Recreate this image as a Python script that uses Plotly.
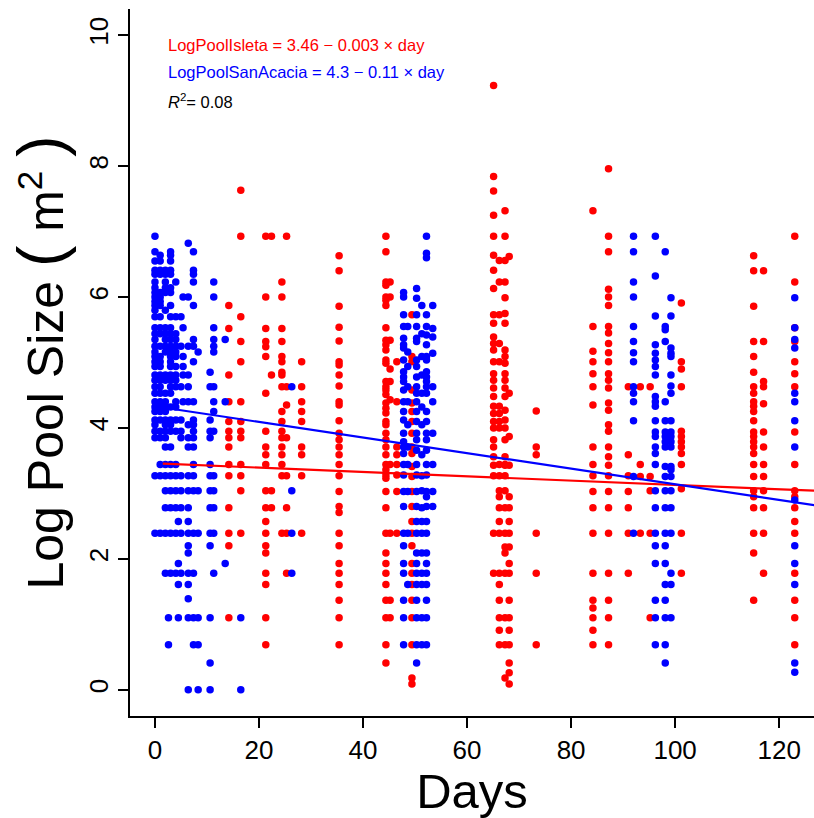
import plotly.graph_objects as go

# Isleta reach (red): sampling day and log pool sizes observed on that day
isleta_days = [14.2, 16.5, 21.3, 22.4, 24.4, 25.3, 28.2, 35.4, 44.4, 45.2, 46.5, 49.4,
               65.1, 66.2, 67.3, 68.1, 73.3, 84.2, 87.2, 91, 93.3, 95.2, 101.2, 115.1, 117, 123]
isleta_logpool = [
    [5.87, 5.52, 4.81, 4.40, 4.10, 3.95, 3.85, 3.71, 3.44, 3.27, 2.78, 2.39, 2.20, 1.10],
    [7.63, 6.93, 5.70, 5.32, 5.01, 4.40, 4.10, 3.95, 3.85, 3.44, 3.27, 3.04, 2.39],
    [6.93, 6.0, 5.52, 5.32, 5.24, 5.09, 4.53, 3.95, 3.71, 3.59, 3.44, 3.04, 2.78, 2.57, 2.39,
     2.20, 2.09, 1.78, 1.61, 1.10, 0.69],
    [6.93, 4.81, 3.04, 2.78],
    [6.23, 6.0, 5.52, 5.32, 5.09, 5.01, 4.85, 4.81, 4.63, 4.25, 4.10, 3.95, 3.85, 3.71, 3.59,
     3.44, 3.27, 2.39],
    [6.93, 4.63, 4.35, 3.85, 3.27, 2.78, 2.39, 1.78],
    [5.01, 4.63, 4.40, 4.25, 4.10, 3.71, 3.59, 3.27, 2.39],
    [6.63, 6.40, 5.86, 5.54, 5.33, 5.01, 4.96, 4.81, 4.64, 4.40, 4.35, 4.11, 3.92, 3.82, 3.71,
     3.59, 3.44, 3.27, 3.03, 2.80, 2.71, 2.39, 2.20, 1.93, 1.78, 1.61, 1.37, 1.10, 0.69],
    [6.93, 6.69, 6.23, 6.18, 6.0, 5.95, 5.87, 5.53, 5.34, 5.27, 5.19, 5.04, 4.99, 4.71, 4.63,
     4.58, 4.51, 4.38, 4.30, 4.23, 4.10, 4.05, 3.92, 3.82, 3.71, 3.59, 3.44, 3.36, 3.28, 3.23,
     3.03, 2.78, 2.39, 2.09, 1.93, 1.78, 1.61, 1.37, 1.10, 0.69, 0.41],
    [6.23, 6.0, 5.34, 4.90, 4.71, 4.43, 3.44, 2.39, 1.37, 1.10],
    [5.01, 4.40, 3.71, 3.59, 3.44, 3.28, 3.03, 2.39],
    [5.73, 5.09, 5.01, 4.58, 4.38, 4.25, 4.10, 3.92, 3.71, 3.61, 3.41, 3.26, 3.03, 2.80, 2.57,
     2.39, 2.20, 1.93, 1.78, 1.61, 1.37, 1.10, 0.69, 0.18, 0.09],
    [9.23, 7.84, 7.62, 7.25, 6.93, 6.64, 6.41, 6.13, 5.73, 5.60, 5.39, 5.29, 5.19, 5.01, 4.83,
     4.73, 4.61, 4.48, 4.33, 4.22, 4.10, 4.0, 3.82, 3.71, 3.56, 3.43, 3.27, 2.39, 1.78],
    [6.56, 6.23, 5.73, 5.29, 5.01, 4.33, 4.22, 4.10, 4.0, 3.44, 3.27, 3.04, 2.95, 2.78, 2.57,
     2.39, 1.78, 1.61, 1.37, 1.10, 0.91, 0.69],
    [7.32, 6.93, 6.56, 6.23, 5.99, 5.75, 5.60, 5.19, 5.09, 4.99, 4.83, 4.73, 4.61, 4.48, 4.27,
     4.12, 4.0, 3.82, 3.56, 3.43, 3.27, 3.44, 3.04, 2.78, 2.39, 2.18, 2.09, 1.78, 1.10, 0.69, 0.18],
    [6.62, 4.53, 3.87, 3.43, 2.95, 2.78, 2.57, 2.39, 2.18, 1.93, 1.78, 1.37, 1.10, 0.91, 0.69,
     0.41, 0.26, 0.09],
    [4.26, 3.71, 3.59, 2.39, 1.78, 0.69],
    [7.32, 5.55, 5.17, 5.01, 4.83, 4.63, 4.35, 3.71, 3.44, 3.27, 3.03, 2.78, 2.39, 1.78, 1.37,
     1.25, 1.10, 0.91, 0.69],
    [7.96, 6.93, 6.69, 6.12, 6.0, 5.87, 5.55, 5.45, 5.29, 5.15, 5.01, 4.83, 4.73, 4.61, 4.38,
     4.27, 4.05, 3.95, 3.71, 3.56, 3.43, 3.27, 3.03, 2.78, 2.39, 1.78, 1.37, 1.10, 0.69],
    [4.63, 3.59, 3.27, 3.03, 2.78, 2.39, 1.78],
    [4.63, 3.44, 3.26, 2.39],
    [4.63, 3.26, 3.04, 2.39, 1.10],
    [5.91, 5.01, 4.90, 4.63, 3.95, 3.87, 3.79, 3.71, 3.61, 3.44, 3.07, 2.39, 1.78],
    [6.63, 6.40, 5.86, 5.32, 5.09, 4.85, 4.63, 4.53, 4.40, 4.33, 4.25, 4.11, 3.94, 3.87, 3.79,
     3.71, 3.61, 3.44, 3.26, 3.04, 2.95, 2.78, 2.39, 2.09, 1.37],
    [6.40, 5.32, 4.71, 4.63, 4.37, 3.94, 3.71, 3.44, 3.26, 3.04, 2.78, 2.39, 1.78],
    [6.93, 6.23, 5.53, 5.32, 5.01, 4.83, 4.63, 3.94, 3.44, 3.04, 2.95, 2.78, 2.57, 2.39, 1.78,
     1.37, 1.10, 0.69],
]

# San Acacia reach (blue)
sanacacia_days = [0, 1, 2, 2.6, 3, 4, 4.5, 5, 5.4, 6.4, 7.4, 8.3, 10.6, 11.3, 13.5, 16.5, 26.3,
                  47.8, 48.6, 50.3, 51.3, 52.2, 53.4, 92, 96.2, 98.1, 99.2, 123]
sanacacia_logpool = [
    [6.93, 6.69, 6.55, 6.41, 6.35, 6.23, 6.14, 6.07, 6.0, 5.93, 5.87, 5.80, 5.70, 5.53, 5.44,
     5.35, 5.25, 5.16, 5.09, 5.01, 4.94, 4.81, 4.73, 4.63, 4.53, 4.40, 4.32, 4.25, 4.12, 4.05,
     3.95, 3.85, 3.27, 2.39],
    [6.64, 6.55, 6.41, 6.35, 6.07, 6.0, 5.93, 5.87, 5.70, 5.53, 5.44, 5.25, 5.09, 5.01, 4.94,
     4.81, 4.73, 4.63, 4.53, 4.40, 4.32, 4.25, 4.12, 3.95, 3.85, 3.44, 3.27, 2.39],
    [6.41, 6.35, 6.23, 6.14, 6.07, 5.80, 5.53, 5.44, 5.35, 5.25, 5.16, 4.81, 4.73, 4.53, 4.40,
     4.32, 4.25, 4.12, 4.05, 3.95, 3.85, 3.71, 3.44, 3.27, 3.04, 2.78, 2.39, 1.78],
    [1.10, 0.69],
    [6.69, 6.64, 6.55, 6.41, 6.35, 6.14, 6.07, 5.87, 5.70, 5.53, 5.44, 5.35, 5.25, 5.16, 5.09,
     5.01, 4.94, 4.81, 4.73, 4.63, 4.53, 4.32, 4.12, 4.05, 3.95, 3.71, 3.44, 3.27, 3.04, 2.78,
     2.39, 1.78],
    [6.23, 5.70, 5.44, 5.35, 5.25, 5.16, 5.09, 4.94, 4.81, 4.73, 4.63, 4.40, 4.32, 4.12, 3.95,
     3.44, 3.27, 3.04, 2.78, 2.39, 1.78],
    [2.57, 1.93, 1.61, 1.10],
    [5.70, 5.25, 4.63, 4.12, 3.95, 3.85, 3.27, 3.04, 2.78, 2.39, 1.78],
    [6.0, 5.53, 5.09, 4.94, 4.81, 4.40],
    [6.82, 6.0, 5.25, 4.81, 4.63, 4.40, 4.05, 3.85, 3.71, 3.27, 3.04, 2.78, 2.57, 2.39, 2.20,
     2.09, 1.78, 1.61, 1.39, 1.10, 0],
    [6.69, 6.41, 6.35, 6.23, 5.87, 5.35, 5.25, 5.01, 4.40, 4.12, 4.05, 3.95, 3.85, 3.71, 3.44,
     3.27, 3.04, 2.39, 1.78, 1.10, 0.69],
    [5.16, 3.04, 2.39, 1.10, 0.69, 0],
    [4.85, 4.63, 4.12, 3.95, 3.85, 3.44, 3.27, 3.04, 2.78, 2.39, 2.20, 1.10, 0.41, 0],
    [6.23, 6.0, 5.53, 5.35, 5.25, 5.16, 4.63, 4.40, 4.25, 3.95, 3.27, 3.04, 2.78, 2.39, 1.78],
    [5.35, 4.40, 1.93],
    [1.10, 0],
    [4.63, 3.04, 2.39, 1.78],
    [6.07, 6.0, 5.73, 5.55, 5.37, 5.27, 5.22, 5.04, 4.86, 4.78, 4.71, 4.58, 4.40, 4.25, 4.12,
     3.92, 3.79, 3.71, 3.61, 3.44, 3.28, 3.03, 2.80, 2.39, 2.20, 1.93, 1.78, 1.37, 1.10, 0.69],
    [5.55, 5.16, 4.94, 4.63, 4.40, 4.05, 3.71, 3.44, 3.03, 2.39, 1.61],
    [6.13, 5.98, 5.73, 5.55, 5.37, 5.32, 5.04, 4.94, 4.78, 4.63, 4.53, 4.40, 4.25, 4.10, 3.92,
     3.82, 3.66, 3.44, 3.28, 3.03, 2.80, 2.57, 2.39, 2.09, 1.93, 1.78, 1.61, 1.37, 1.10, 0.69, 0.41],
    [5.87, 5.44, 5.09, 4.81, 4.53, 4.32, 4.05, 3.59, 3.27, 3.04, 2.78, 2.57, 2.39, 2.09, 1.78,
     1.61, 1.10, 0.69],
    [6.93, 6.67, 6.60, 5.73, 5.55, 5.42, 5.27, 5.09, 5.04, 4.86, 4.78, 4.71, 4.63, 4.53, 4.25,
     4.10, 3.92, 3.82, 3.66, 3.44, 3.28, 3.03, 2.95, 2.80, 2.57, 2.39, 2.09, 1.93, 1.78, 1.61,
     1.37, 1.10, 0.69],
    [5.87, 5.52, 5.39, 5.14, 4.63, 4.40, 3.92, 3.44, 3.03, 2.80],
    [6.93, 6.69, 6.23, 6.0, 5.55, 5.32, 5.15, 5.01, 4.63, 4.53, 4.40, 4.11, 3.26, 2.39],
    [6.93, 6.32, 5.71, 5.27, 5.14, 5.04, 4.94, 4.81, 4.48, 4.40, 4.33, 4.11, 3.94, 3.87, 3.71,
     3.61, 3.44, 3.04, 2.78, 2.39, 2.20, 1.93, 1.37, 1.10, 0.69],
    [6.69, 5.55, 5.50, 5.32, 4.40, 4.11, 3.94, 3.87, 3.79, 3.71, 3.41, 3.26, 3.04, 2.78, 2.39,
     2.20, 1.93, 1.61, 1.37, 1.10, 0.69, 0.41],
    [5.99, 5.71, 5.22, 5.14, 5.09, 4.81, 4.64, 4.53, 4.11, 3.94, 3.87, 3.79, 3.71, 3.41, 3.36,
     3.26, 3.04, 2.78, 2.39, 1.78, 1.61, 1.10],
    [5.99, 5.53, 5.35, 5.22, 4.53, 4.40, 4.11, 3.71, 2.90, 2.20, 1.93, 1.61, 0.41, 0.27],
]

# fitted lines (intercept, slope) as drawn
isleta_fit = (3.46, -0.0033)
sanacacia_fit = (4.33, -0.0119)
fit_span = [1.5, 130]

x_ticks = [0, 20, 40, 60, 80, 100, 120]
y_ticks = [0, 2, 4, 6, 8, 10]

RED = "#ff0000"
BLUE = "#0000ff"
FONT = "Liberation Sans, Arial, sans-serif"


def flatten(days, values):
    xs, ys = [], []
    for d, vals in zip(days, values):
        xs += [d] * len(vals)
        ys += vals
    return xs, ys


isl_x, isl_y = flatten(isleta_days, isleta_logpool)
sa_x, sa_y = flatten(sanacacia_days, sanacacia_logpool)

fig = go.Figure()

fig.add_trace(go.Scatter(x=isl_x, y=isl_y, mode="markers",
                         marker=dict(color=RED, size=7.5, line=dict(width=0)), name="Isleta"))
fig.add_trace(go.Scatter(x=sa_x, y=sa_y, mode="markers",
                         marker=dict(color=BLUE, size=7.5, line=dict(width=0)), name="San Acacia"))

# regression lines
fig.add_trace(go.Scatter(x=fit_span, y=[isleta_fit[0] + isleta_fit[1] * d for d in fit_span],
                         mode="lines", line=dict(color=RED, width=2.2)))
fig.add_trace(go.Scatter(x=fit_span, y=[sanacacia_fit[0] + sanacacia_fit[1] * d for d in fit_span],
                         mode="lines", line=dict(color=BLUE, width=2.2)))

labels = [
    ("LogPoolIsleta = 3.46 − 0.003 × day", RED, 9.85),
    ("LogPoolSanAcacia = 4.3 − 0.11 × day", BLUE, 9.44),
    ("<i>R</i><sup>2</sup>= 0.08", "black", 9.0),
]
for txt, col, yv in labels:
    fig.add_annotation(x=2.1, y=yv, xref="x", yref="y", text=txt, showarrow=False,
                       xanchor="left", yanchor="middle",
                       font=dict(family=FONT, size=16.5, color=col))

axis_common = dict(showline=True, linecolor="black", linewidth=2, mirror=False,
                   ticks="outside", ticklen=10, tickwidth=1.5, tickcolor="black",
                   showgrid=False, zeroline=False,
                   tickfont=dict(family=FONT, size=26, color="black"))

ytitle = ("Log Pool Size <span style='font-size:64px'>(</span> m<sup>2</sup> "
          "<span style='font-size:64px'>)</span>")

fig.update_layout(
    width=814, height=818,
    margin=dict(l=130, r=0, t=9, b=102),
    plot_bgcolor="white", paper_bgcolor="white",
    showlegend=False,
    xaxis=dict(range=[-4.8, 126.7], tickvals=x_ticks,
               title=dict(text="Days", font=dict(family=FONT, size=49, color="black"), standoff=0),
               **axis_common),
    yaxis=dict(range=[-0.4, 10.4], tickvals=y_ticks, tickangle=-90,
               title=dict(text=ytitle, font=dict(family=FONT, size=50, color="black"), standoff=4),
               **axis_common),
)

fig.write_html("out.html", config={"displayModeBar": False},
               post_script="document.body.style.margin='0';")
